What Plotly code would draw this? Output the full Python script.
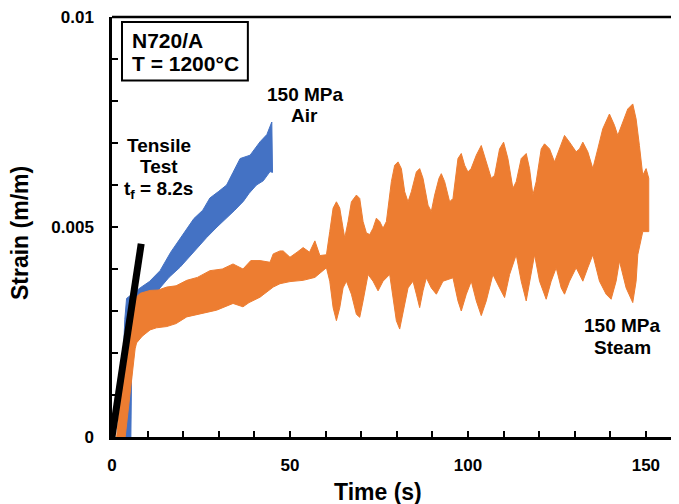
import plotly.graph_objects as go

# ---------------- data ----------------
tensile_t = [0.0, 8.2]
tensile_s = [0.0, 0.0046]

# 150 MPa Air: upper and lower envelopes (both left -> right)
air_up_t = [2.2, 3.0, 3.6, 4.1, 5.5, 7.9, 10.5, 13.5, 16.5, 20.0, 23.0, 25.5, 27.5,
            30.0, 32.2, 34.0, 36.0, 38.8, 41.6, 43.5, 44.9]
air_up_s = [0.0, 0.0015, 0.0028, 0.0033, 0.0034, 0.00355, 0.0037, 0.00396, 0.0044,
            0.00483, 0.0052, 0.0054, 0.00569, 0.00585, 0.0060, 0.0063, 0.00663,
            0.00671, 0.00703, 0.0072, 0.0075]
air_lo_t = [5.3, 5.5, 5.8, 7.0, 10.0, 13.0, 16.0, 19.1, 23.0, 26.6, 29.5, 32.2, 34.5,
            36.9, 38.5, 40.6, 42.5, 44.4, 45.1]
air_lo_s = [0.0, 0.0015, 0.0025, 0.0030, 0.0032, 0.0035, 0.0038, 0.00404, 0.0044,
            0.00475, 0.0050, 0.00522, 0.0054, 0.00561, 0.0058, 0.0060, 0.0061,
            0.00632, 0.0063]

# 150 MPa Steam: upper and lower envelopes (both left -> right)
steam_up_t = [1.3, 3.0, 5.0, 6.5, 7.9, 10.7, 13.0, 15.4, 18.0, 21.0, 24.0, 27.5, 31.0,
              34.0, 36.8, 39.0, 41.6, 44.4, 45.3, 47.2, 48.1, 50.0, 52.0, 53.7, 55.5,
              57.0, 58.4,
              60.25, 61.18, 62.12, 63.05, 63.99, 64.92, 65.39, 66.33, 67.26, 68.67,
              69.60, 70.54, 71.47, 72.41, 73.34, 74.28, 75.22, 76.15, 77.09, 78.49,
              79.42, 80.36, 81.30, 82.23, 83.17, 84.10, 85.51, 86.44, 87.38, 88.78,
              89.71, 90.65, 91.87, 92.52, 93.46, 94.86, 95.80, 97.20, 98.13, 99.07,
              100.0, 100.9, 102.35, 103.75, 105.15, 106.55, 107.49, 108.89, 110.02,
              111.23, 112.64, 113.57, 114.97, 116.38, 117.31, 118.25, 119.18, 120.59,
              121.52, 122.93, 124.33, 125.73, 127.14, 128.54, 130.41, 131.35, 132.28,
              133.68, 135.09, 136.49, 137.89, 139.76, 141.17, 142.10, 143.51, 144.91,
              146.31, 147.25, 148.18, 149.12, 150.05, 150.80]
steam_up_s = [0.0, 0.0014, 0.0027, 0.0033, 0.00342, 0.00349, 0.0035, 0.00357, 0.0036,
              0.00373, 0.0038, 0.00396, 0.0040, 0.00412, 0.0040, 0.0042, 0.0042,
              0.00416, 0.00436, 0.00443, 0.00443, 0.00428, 0.0044, 0.00451, 0.0044,
              0.00467, 0.00432,
              0.00434, 0.00489, 0.00545, 0.00560, 0.00545, 0.00497, 0.00474, 0.00513,
              0.00560, 0.00576, 0.00568, 0.00513, 0.00486, 0.00482, 0.00497, 0.00521,
              0.00513, 0.00497, 0.00513, 0.00608, 0.00647, 0.00655, 0.00639, 0.00584,
              0.00560, 0.00584, 0.00631, 0.00639, 0.00616, 0.00552, 0.00537, 0.00576,
              0.00616, 0.00627, 0.00608, 0.00560, 0.00568, 0.00663, 0.00675, 0.00647,
              0.00631, 0.00639, 0.00671, 0.00694, 0.00655, 0.00616, 0.00623, 0.00686,
              0.00702, 0.00663, 0.00592, 0.00608, 0.00663, 0.00675, 0.00639, 0.00576,
              0.00608, 0.00686, 0.00698, 0.00686, 0.00655, 0.00686, 0.00718, 0.00702,
              0.00679, 0.00686, 0.00702, 0.00679, 0.00639, 0.00686, 0.00734, 0.00769,
              0.00742, 0.00718, 0.00749, 0.00781, 0.00793, 0.00757, 0.00694, 0.00623,
              0.00639, 0.00616]
steam_lo_t = [3.7, 5.0, 6.5, 6.9, 8.5, 10.7, 12.5, 15.4, 18.0, 21.0, 24.7, 29.4, 34.0,
              36.8, 38.5, 41.6, 45.3, 47.2, 50.0, 53.7, 57.0,
              60.25, 61.18, 62.12, 63.05, 63.99, 64.92, 65.86, 67.26, 68.67, 69.60,
              70.54, 71.94, 73.34, 74.75, 76.15, 78.02, 78.96, 79.89, 80.83, 81.76,
              83.17, 84.57, 85.51, 86.44, 87.38, 88.31, 89.71, 91.12, 92.99, 95.80,
              97.20, 98.13, 99.54, 100.94, 102.35, 103.75, 105.15, 107.02, 108.89,
              110.30, 111.70, 113.57, 114.97, 116.38, 117.78, 118.72, 120.12, 121.99,
              123.39, 124.80, 126.20, 127.14, 128.54, 130.41, 132.28, 133.68, 135.09,
              136.96, 138.83, 140.23, 141.63, 142.57, 144.44, 146.31, 147.25, 147.72,
              149.12, 150.80]
steam_lo_s = [0.0, 0.0010, 0.0021, 0.00224, 0.0024, 0.00255, 0.0026, 0.00263, 0.0027,
              0.00286, 0.00294, 0.00302, 0.00318, 0.0031, 0.0032, 0.00333, 0.00357,
              0.00365, 0.0037, 0.00373, 0.0038,
              0.00403, 0.00371, 0.00308, 0.00277, 0.00308, 0.00355, 0.00371, 0.00340,
              0.00292, 0.00285, 0.00324, 0.00387, 0.00371, 0.00348, 0.00371, 0.00387,
              0.00332, 0.00277, 0.00257, 0.00292, 0.00355, 0.00371, 0.00340, 0.00308,
              0.00348, 0.00379, 0.00355, 0.00340, 0.00371, 0.00379, 0.00324, 0.00300,
              0.00340, 0.00371, 0.00324, 0.00289, 0.00324, 0.00387, 0.00355, 0.00332,
              0.00387, 0.00434, 0.00371, 0.00324, 0.00387, 0.00434, 0.00371, 0.00328,
              0.00371, 0.00403, 0.00355, 0.00340, 0.00371, 0.00403, 0.00371, 0.00403,
              0.00434, 0.00371, 0.00340, 0.00328, 0.00371, 0.00419, 0.00355, 0.00320,
              0.00371, 0.00434, 0.00489, 0.00489]

x_ticks = [0, 50, 100, 150]
y_ticks = [0, 0.005, 0.01]
y_ticktext = ["0", "0.005", "0.01"]

BLUE = "#4472C4"
ORANGE = "#ED7D31"
FONT = "Liberation Sans, Arial, sans-serif"

fig = go.Figure()
fig.add_trace(go.Scatter(x=air_up_t + air_lo_t[::-1], y=air_up_s + air_lo_s[::-1],
                         mode="lines", fill="toself", fillcolor=BLUE,
                         line=dict(color=BLUE, width=1), hoverinfo="skip"))
fig.add_trace(go.Scatter(x=steam_up_t + steam_lo_t[::-1],
                         y=steam_up_s + steam_lo_s[::-1],
                         mode="lines", fill="toself", fillcolor=ORANGE,
                         line=dict(color=ORANGE, width=1), hoverinfo="skip"))
fig.add_trace(go.Scatter(x=tensile_t, y=tensile_s, mode="lines",
                         line=dict(color="black", width=7), hoverinfo="skip"))

axis_common = dict(showline=True, linecolor="black", linewidth=2.5, showgrid=False,
                   zeroline=False, ticks="inside", ticklen=6, tickwidth=2,
                   tickcolor="black", mirror=False, ticklabeloverflow="allow",
                   tickfont=dict(family=FONT, size=17, color="black", weight="bold"))

fig.update_xaxes(range=[0, 159.3], tickvals=x_ticks, ticklabelstandoff=11,
                 minor=dict(tickmode="linear", tick0=0, dtick=10, ticks="inside",
                            ticklen=6, tickwidth=2, tickcolor="black"),
                 **axis_common)
fig.update_yaxes(range=[0, 0.01], tickvals=y_ticks, ticktext=y_ticktext,
                 ticklabelstandoff=12,
                 minor=dict(tickmode="linear", tick0=0, dtick=0.001, ticks="inside",
                            ticklen=6, tickwidth=2, tickcolor="black"),
                 **axis_common)

# page body has an 8px margin, so the figure is 8px smaller than the window
fig.update_layout(
    width=671, height=496,
    margin=dict(l=104, r=0, t=6, b=67),
    plot_bgcolor="white", paper_bgcolor="white",
    showlegend=False,
    font=dict(family=FONT, size=19, color="black", weight="bold"),
    shapes=[
        dict(type="line", xref="paper", yref="paper", x0=0, x1=1, y0=1, y1=1,
             line=dict(color="black", width=2.5)),
        dict(type="rect", xref="x", yref="y", x0=2.81, x1=38.17, y0=0.00849,
             y1=0.00988, line=dict(color="black", width=2), fillcolor="white"),
    ],
)

ann_font = dict(family=FONT, size=19, color="black", weight="bold")
box_font = dict(family=FONT, size=21, color="black", weight="bold")
# text box
fig.add_annotation(x=5.05, y=0.00943, xanchor="left", yanchor="middle",
                   showarrow=False, text="N720/A", font=box_font)
fig.add_annotation(x=5.05, y=0.00889, xanchor="left", yanchor="middle",
                   showarrow=False, text="T = 1200°C", font=box_font)
# labels
for txt, xx, yy in [("Tensile", 13.19, 0.00695), ("Test", 13.19, 0.00643),
                    ("t<sub>f</sub> = 8.2s", 13.0, 0.00589),
                    ("150 MPa", 54.16, 0.00816), ("Air", 54.16, 0.00766),
                    ("150 MPa", 143.4, 0.00265), ("Steam", 143.4, 0.00213)]:
    fig.add_annotation(x=xx, y=yy, xanchor="center", yanchor="middle",
                       showarrow=False, text=txt, font=ann_font)
# axis titles
title_font = dict(family=FONT, size=23, color="black", weight="bold")
fig.add_annotation(xref="paper", yref="paper", x=-0.162, y=0.486, textangle=-90,
                   xanchor="center", yanchor="middle", showarrow=False,
                   text="Strain (m/m)", font=title_font)
fig.add_annotation(xref="paper", yref="paper", x=0.469, y=-0.13, xanchor="center",
                   yanchor="middle", showarrow=False, text="Time (s)", font=title_font)

fig.write_html("out.html")
